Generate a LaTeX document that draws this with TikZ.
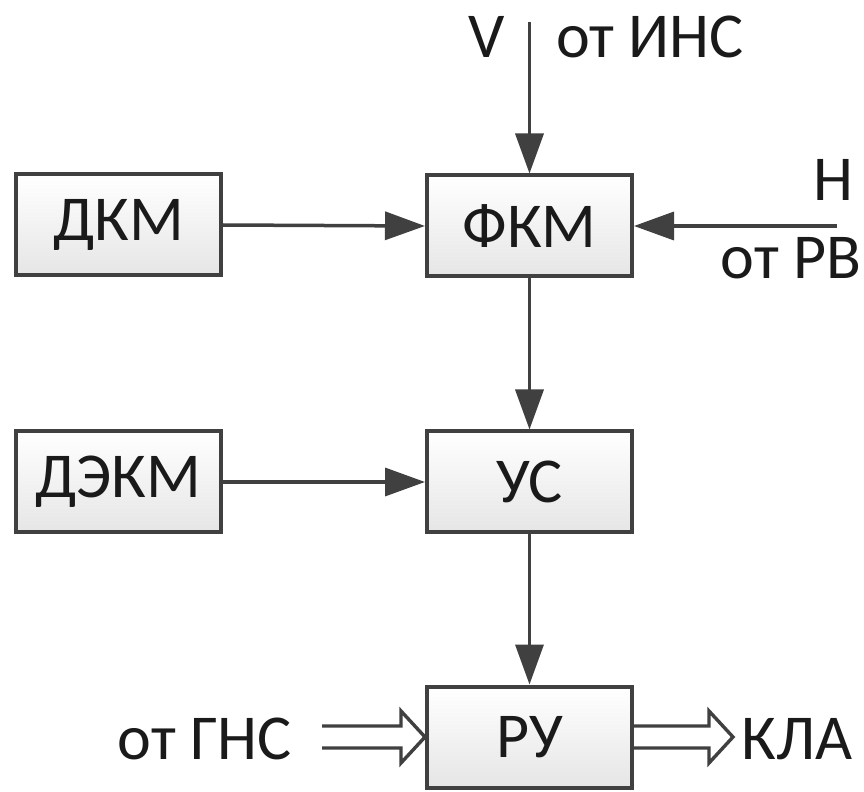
\documentclass[tikz,border=0pt]{standalone}
\usepackage{fontspec}
\setmainfont{Carlito}
\usetikzlibrary{arrows.meta,calc}
\definecolor{ln}{HTML}{404040}
\definecolor{txt}{HTML}{1A1A1A}
\begin{document}
\begin{tikzpicture}[x=0.5pt,y=-0.5pt,
  font=\fontsize{32}{38}\selectfont,
  blk/.style={draw=ln, line width=2pt, top color=white, bottom color=black!10,
    minimum width=102.5pt, minimum height=50.5pt, inner sep=0pt, text=txt},
  lbl/.style={inner sep=0pt, text=txt},
  con/.style={draw=ln, line width=1.75pt, -{Triangle[length=20pt,width=14pt]}},
  dbl/.style={draw=ln, line width=1.7pt, line join=miter}]
\useasboundingbox (0,0) rectangle (864,792);
\fill[white] (0,0) rectangle (864,792);
% blocks
\node[blk] (dkm)  at (118.5,225) {ДКМ};
\node[blk] (fkm)  at (529.5,226) {ФКМ};
\node[blk] (dekm) at (118.5,482) {ДЭКМ};
\node[blk] (us)   at (529.5,482) {УС};
\node[blk] (ru)   at (529.5,737) {РУ};
% free ends
\coordinate (vin) at (529.5,22);
\coordinate (hin) at (837,226);
\coordinate (gns) at (322,737);
\coordinate (kla) at (733,737);
% labels
\node[lbl] (vl)  at (487,37) {V};
\node[lbl] (insl) at (650,37) {от ИНС};
\node[lbl] (hl)  at (833,180) {H};
\node[lbl] (rvl) at (791,258) {от РВ};
\node[lbl] (gnsl) at (205,739) {от ГНС};
\node[lbl] (klal) at (797,739) {КЛА};
% connectors
\draw[con] (vin) -- (fkm.north);
\draw[con] (hin) -- (fkm.east);
\draw[con] (dkm.east) -- (fkm.west);
\draw[con] (fkm.south) -- (us.north);
\draw[con] (dekm.east) -- (us.west);
\draw[con] (us.south) -- (ru.north);
% double (block) arrows
\draw[dbl] ($(gns)+(0,-11)$) -- ($(ru.west)+(-24,-11)$) -- ($(ru.west)+(-24,-26)$)
  -- (ru.west) -- ($(ru.west)+(-24,26)$) -- ($(ru.west)+(-24,11)$) -- ($(gns)+(0,11)$);
\draw[dbl] ($(ru.east)+(0,-11)$) -- ($(kla)+(-24,-11)$) -- ($(kla)+(-24,-26)$)
  -- (kla) -- ($(kla)+(-24,26)$) -- ($(kla)+(-24,11)$) -- ($(ru.east)+(0,11)$);
\end{tikzpicture}
\end{document}
